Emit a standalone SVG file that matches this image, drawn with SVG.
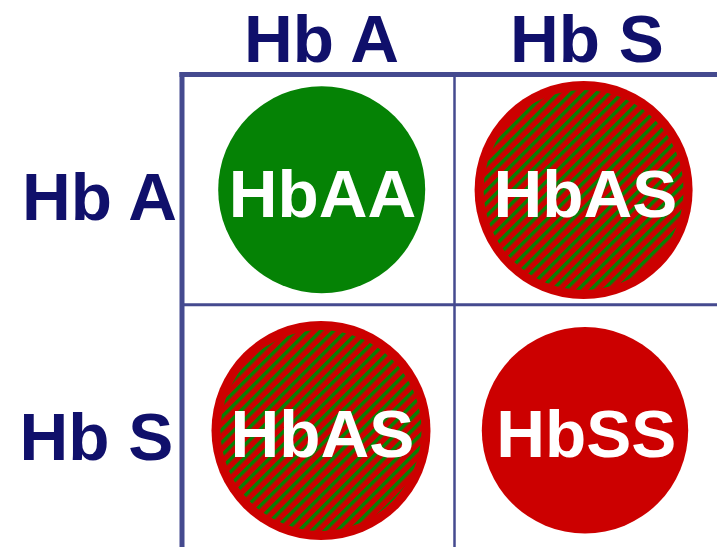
<svg xmlns="http://www.w3.org/2000/svg" width="717" height="547" viewBox="0 0 717 547">
  <style>
    .hdr { font-family: "Liberation Sans", Arial, sans-serif; font-weight: bold; font-size: 67.5px; fill: #10106b; text-anchor: middle; }
    .lbl { font-family: "Liberation Sans", Arial, sans-serif; font-weight: bold; font-size: 67.5px; fill: #ffffff; text-anchor: middle; }
    .grid { stroke: #454a8f; fill: none; }
  </style>
  <defs>
    <pattern id="hatch" patternUnits="userSpaceOnUse" width="9" height="9" patternTransform="rotate(45)">
      <rect x="0" y="0" width="9" height="9" fill="#cc0000"/>
      <rect x="0" y="0" width="3.5" height="9" fill="#058205"/>
    </pattern>
  </defs>
  <rect width="717" height="547" fill="#ffffff"/>

  <g id="headers">
    <text class="hdr" x="321.5" y="61.5">Hb A</text>
    <text class="hdr" x="587" y="61.5">Hb S</text>
    <text class="hdr" x="99.5" y="219.5">Hb A</text>
    <text class="hdr" x="96.5" y="459.5">Hb S</text>
  </g>

  <g id="grid">
    <line class="grid" x1="179.5" y1="74.5" x2="717" y2="74.5" stroke-width="5"/>
    <line class="grid" x1="182" y1="72" x2="182" y2="547" stroke-width="5"/>
    <line class="grid" x1="454.5" y1="74" x2="454.5" y2="547" stroke-width="2.5"/>
    <line class="grid" x1="182" y1="304.7" x2="717" y2="304.7" stroke-width="3"/>
  </g>

  <g id="HbAA">
    <circle cx="321.7" cy="189.7" r="103.5" fill="#058205"/>
    <text class="lbl" x="322.5" y="216.5">HbAA</text>
  </g>
  <g id="HbAS-top">
    <circle cx="583.6" cy="190" r="109" fill="#cc0000"/>
    <circle cx="583.6" cy="190" r="100" fill="url(#hatch)"/>
    <text class="lbl" x="585.3" y="216.5">HbAS</text>
  </g>
  <g id="HbAS-bottom">
    <circle cx="321" cy="430.5" r="109.5" fill="#cc0000"/>
    <circle cx="321" cy="430.5" r="100.5" fill="url(#hatch)"/>
    <text class="lbl" x="322.3" y="456.5">HbAS</text>
  </g>
  <g id="HbSS">
    <circle cx="585" cy="430.3" r="103.2" fill="#cc0000"/>
    <text class="lbl" x="586.3" y="456.5">HbSS</text>
  </g>
</svg>
